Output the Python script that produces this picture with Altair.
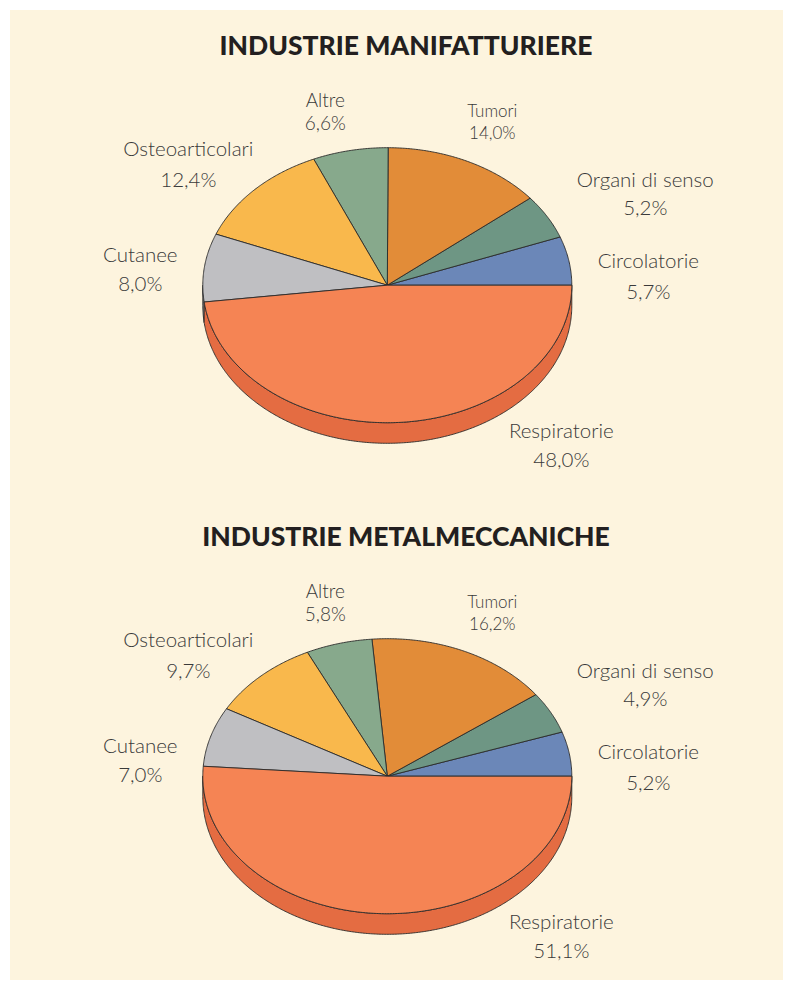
import numpy as np
import pandas as pd
import altair as alt

# ---- data ----
categories = ["Circolatorie", "Organi di senso", "Tumori", "Altre",
              "Osteoarticolari", "Cutanee", "Respiratorie"]
manifatturiere = [5.7, 5.2, 14.0, 6.6, 12.4, 8.0, 48.0]
metalmeccaniche = [5.2, 4.9, 16.2, 5.8, 9.7, 7.0, 51.1]
titles = ["INDUSTRIE MANIFATTURIERE", "INDUSTRIE METALMECCANICHE"]

# ---- style / layout ----
top_colors = ["#6b87b8", "#6e9684", "#e28c38", "#87a98c", "#f9b84c", "#bfbfc2", "#f58454"]
rim_colors = ["#56709c", "#5a7e6d", "#c8762a", "#6f9075", "#e39f36", "#a7a7ab", "#e46c42"]
BG = "#fdf4de"
TEXT = "#3a3a3a"
CX, RX, RY, DEPTH = 387.3, 184.5, 137.5, 20.6
CYS = [285.2, 776.2]
TITLE_DY = -238
TITLE_X = 406
# label offsets relative to ellipse center: dx, dy(name), dy(percent), fontsize
label_pos = {
    "Altre": (-62, -184, -161, 19),
    "Tumori": (105, -173, -151, 17),
    "Organi di senso": (258, -104, -76, 20.5),
    "Circolatorie": (261, -23, 8, 20.5),
    "Respiratorie": (174, 147, 176, 20.5),
    "Cutanee": (-247, -29, 0, 20.5),
    "Osteoarticolari": (-199, -135, -104, 20.5),
}


def pt(a, cy, dy=0.0):
    r = np.radians(a)
    return CX + RX * np.cos(r), cy - RY * np.sin(r) + dy


top_rows, rim_rows, text_rows = [], [], []
for p, (values, cy) in enumerate(zip([manifatturiere, metalmeccaniche], CYS)):
    total = sum(values)
    a0 = 0.0
    for cat, v in zip(categories, values):
        a1 = a0 + 360.0 * v / total
        pid = f"{p}-{cat}"
        n = max(3, int((a1 - a0) / 0.5) + 2)
        pts = [(CX, cy)] + [pt(a, cy) for a in np.linspace(a0, a1, n)] + [(CX, cy)]
        for i, (x, y) in enumerate(pts):
            top_rows.append({"pid": pid, "cat": cat, "i": i, "x": x, "y": y})
        r0, r1 = max(a0, 180.0), min(a1, 360.0)
        if r1 > r0:
            m = max(3, int((r1 - r0) / 0.5) + 2)
            angs = np.linspace(r0, r1, m)
            rp = [pt(a, cy) for a in angs] + [pt(a, cy, DEPTH) for a in angs[::-1]]
            rp.append(rp[0])
            for i, (x, y) in enumerate(rp):
                rim_rows.append({"pid": pid, "cat": cat, "i": i, "x": x, "y": y})
        dx, dyn, dyp, fs = label_pos[cat]
        pct = f"{v:.1f}".replace(".", ",") + "%"
        text_rows.append({"x": CX + dx, "y": cy + dyn, "t": cat, "fs": fs})
        text_rows.append({"x": CX + dx, "y": cy + dyp, "t": pct, "fs": fs})
        a0 = a1

top_df = pd.DataFrame(top_rows)
rim_df = pd.DataFrame(rim_rows)
text_df = pd.DataFrame(text_rows)
title_df = pd.DataFrame({"x": [TITLE_X, TITLE_X],
                         "y": [CYS[0] + TITLE_DY, CYS[1] + TITLE_DY],
                         "t": titles})

W, H = 775, 972
xs = alt.Scale(domain=[8, 8 + W], nice=False, zero=False)
ys = alt.Scale(domain=[8, 8 + H], nice=False, zero=False, reverse=True)
X = alt.X("x:Q", scale=xs, axis=None)
Y = alt.Y("y:Q", scale=ys, axis=None)

bg = alt.Chart(pd.DataFrame({"a": [0]})).mark_rect(color=BG).encode(
    x=alt.value(2), x2=alt.value(W), y=alt.value(2), y2=alt.value(H))

rim = alt.Chart(rim_df).mark_line(filled=True, stroke="#2a2a2a", strokeWidth=0.9,
                                  strokeJoin="round").encode(
    x=X, y=Y, order="i:Q", detail="pid:N",
    color=alt.Color("cat:N", scale=alt.Scale(domain=categories, range=rim_colors), legend=None))

top = alt.Chart(top_df).mark_line(filled=True, stroke="#2a2a2a", strokeWidth=0.9,
                                  strokeJoin="round").encode(
    x=X, y=Y, order="i:Q", detail="pid:N",
    color=alt.Color("cat:N", scale=alt.Scale(domain=categories, range=top_colors), legend=None))

labels = alt.Chart(text_df).mark_text(font="Lato", fontWeight=300, color=TEXT,
                                      align="center", baseline="middle").encode(
    x=X, y=Y, text="t:N", size=alt.Size("fs:Q", scale=None, legend=None))

title = alt.Chart(title_df).mark_text(font="Lato", fontWeight=900, fontSize=26.5,
                                      color="#231f20", align="center",
                                      baseline="middle").encode(x=X, y=Y, text="t:N")

chart = alt.layer(bg, rim, top, labels, title).resolve_scale(color="independent").properties(
    width=W, height=H, autosize=alt.AutoSizeParams(type="none"), padding=0,
    background="#ffffff").configure_view(stroke=None)

chart.save("out.html", embed_options={"renderer": "svg", "actions": False})
